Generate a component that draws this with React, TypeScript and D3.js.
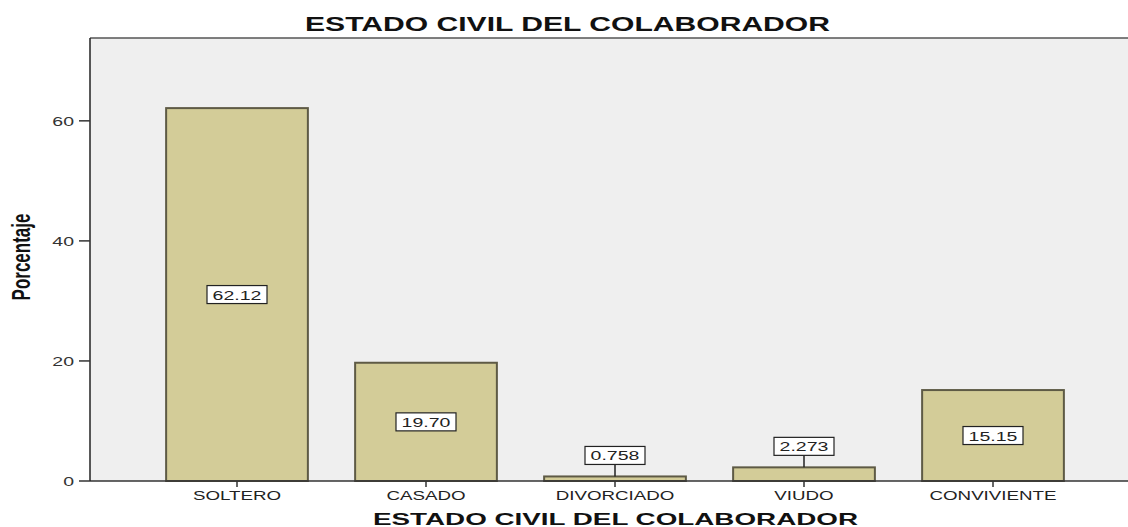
import React from "react";
import * as d3 from "d3";

const categories = ["SOLTERO", "CASADO", "DIVORCIADO", "VIUDO", "CONVIVIENTE"];
const values = [62.12, 19.7, 0.758, 2.273, 15.15];
const valueLabels = ["62.12", "19.70", "0.758", "2.273", "15.15"];
const yTicks = [0, 20, 40, 60];
const chartTitle = "ESTADO CIVIL DEL COLABORADOR";
const xTitle = "ESTADO CIVIL DEL COLABORADOR";
const yTitle = "Porcentaje";

const font = "Arial, 'Liberation Sans', sans-serif";
const SX = 1.5;

function SText(props: { x: number; y: number; size: number; anchor?: string; children: React.ReactNode; fill?: string; weight?: string }) {
  return (
    <text
      transform={`translate(${props.x},${props.y}) scale(${SX},1)`}
      textAnchor={props.anchor || "middle"}
      fontFamily={font}
      fontSize={props.size}
      fontWeight={props.weight || "normal"}
      fill={props.fill || "#222"}
    >
      {props.children}
    </text>
  );
}

export default function App() {
  const W = 1128, H = 527;
  const left = 90, top = 38, bottom = 481, right = 1128;
  const y = d3.scaleLinear().domain([0, 73.8]).range([bottom, top]);
  const x = d3.scaleBand<string>().domain(categories).range([142.5, 1087.5]).paddingInner(0.25).paddingOuter(0.125);
  return (
    <svg width={W} height={H} style={{ position: "absolute", left: 0, top: 0, background: "#fff" }}>
      <rect x={left} y={top} width={right - left} height={bottom - top} fill="#efefef" />
      <line x1={left} x2={right} y1={top} y2={top} stroke="#555" strokeWidth={1.5} />
      <text x={305} y={31} textLength={525} lengthAdjust="spacingAndGlyphs" fontFamily={font} fontWeight="bold" fontSize={19.5} fill="#111">{chartTitle}</text>
      {categories.map((c, i) => {
        const bx = x(c)!;
        const bw = x.bandwidth();
        const by = y(values[i]);
        const cx = bx + bw / 2;
        const small = bottom - by < 40;
        const ly = small ? by - 21 : (by + bottom) / 2;
        const bwBox = 60, bhBox = 18;
        return (
          <g key={c}>
            <rect x={bx} y={by} width={bw} height={bottom - by} fill="#d3cc98" stroke="#5e5a45" strokeWidth={2} />
            {small && <line x1={cx} x2={cx} y1={ly + bhBox / 2} y2={by} stroke="#222" strokeWidth={1.5} />}
            <rect x={cx - bwBox / 2} y={ly - bhBox / 2} width={bwBox} height={bhBox} fill="#fff" stroke="#222" strokeWidth={1.2} />
            <SText x={cx} y={ly + 5} size={13}>{valueLabels[i]}</SText>
            <line x1={cx} x2={cx} y1={bottom} y2={bottom + 6} stroke="#333" strokeWidth={1.5} />
            <SText x={cx} y={500} size={12.5}>{c}</SText>
          </g>
        );
      })}
      <line x1={left} x2={right} y1={bottom} y2={bottom} stroke="#333" strokeWidth={1.5} />
      <line x1={left} x2={left} y1={top} y2={bottom} stroke="#222" strokeWidth={1.5} />
      {yTicks.map(t => (
        <g key={t}>
          <line x1={left - 11} x2={left} y1={y(t)} y2={y(t)} stroke="#333" strokeWidth={1.5} />
          <SText x={left - 16} y={y(t) + 5} size={13} anchor="end" fill="#333">{t}</SText>
        </g>
      ))}
      <text transform={`translate(30,${257}) scale(${SX},1) rotate(-90)`} textAnchor="middle" fontFamily={font} fontWeight="bold" fontSize={17} fill="#111">{yTitle}</text>
      <text x={373} y={525} textLength={485} lengthAdjust="spacingAndGlyphs" fontFamily={font} fontWeight="bold" fontSize={16.5} fill="#111">{xTitle}</text>
    </svg>
  );
}
